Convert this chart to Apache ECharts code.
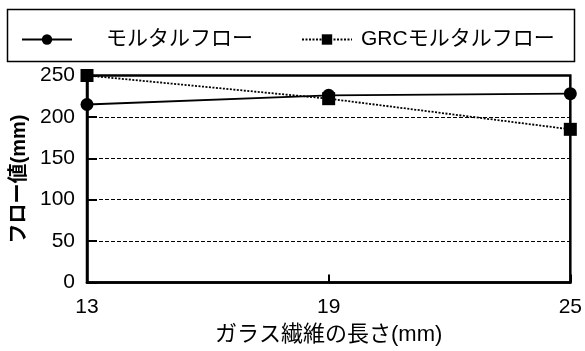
<!DOCTYPE html>
<html>
<head>
<meta charset="utf-8">
<script src="https://cdn.jsdelivr.net/npm/echarts@6/dist/echarts.min.js"></script>
<style>
html,body{margin:0;padding:0;background:#fff;}
#chart{width:585px;height:351px;}
</style>
</head>
<body>
<div id="chart"></div>
<script>
// Fibre lengths (mm) and measured flow values (mm)
var fiberLengths = ['13', '19', '25'];
var mortarFlow = [215, 226, 228];
var grcMortarFlow = [250, 222, 185];
var seriesNames = ['モルタルフロー', 'GRCモルタルフロー'];
var yTicks = { min: 0, max: 250, interval: 50 };

var FONT = "'Liberation Sans', 'Noto Sans CJK JP', sans-serif";
var chart = echarts.init(document.getElementById('chart'));

chart.setOption({
  animation: false,
  backgroundColor: '#fff',
  graphic: [{
    type: 'rect',
    shape: { x: 7.5, y: 9.5, width: 567, height: 52 },
    style: { fill: 'none', stroke: '#000', lineWidth: 1.5 },
    z: 0
  }],
  legend: {
    left: 16,
    top: 24,
    itemWidth: 50,
    itemHeight: 13,
    itemGap: 48,
    itemTextGap: 3,
    textStyle: { fontFamily: FONT, fontSize: 21, color: '#000' },
    data: [
      { name: seriesNames[0], textStyle: { padding: [0, 0, 0, 29] } },
      { name: seriesNames[1], textStyle: { padding: [0, 0, 0, 4] } }
    ]
  },
  grid: {
    left: 87, right: 14, top: 75.5, bottom: 68.5,
    show: true, borderColor: '#000', borderWidth: 2.5, backgroundColor: 'transparent'
  },
  xAxis: {
    type: 'category',
    data: fiberLengths,
    boundaryGap: false,
    name: 'ガラス繊維の長さ(mm)',
    nameLocation: 'middle',
    nameGap: 41,
    nameTextStyle: { fontFamily: FONT, fontSize: 22, color: '#000' },
    axisLine: { lineStyle: { color: '#000', width: 2.5 } },
    axisTick: { inside: true, length: 8, lineStyle: { color: '#000', width: 2 } },
    axisLabel: { margin: 14, fontFamily: FONT, fontSize: 21, color: '#000' },
    splitLine: { show: false }
  },
  yAxis: {
    type: 'value',
    min: yTicks.min, max: yTicks.max, interval: yTicks.interval,
    name: 'フロー値(mm)',
    nameLocation: 'middle',
    nameGap: 51,
    nameTextStyle: { fontFamily: FONT, fontSize: 20, fontWeight: 'bold', color: '#000' },
    axisLine: { show: true, lineStyle: { color: '#000', width: 2.5 } },
    axisTick: { show: true, inside: true, length: 10, lineStyle: { color: '#000', width: 2 } },
    axisLabel: { margin: 12, fontFamily: FONT, fontSize: 21, color: '#000' },
    splitLine: { show: true, lineStyle: { color: '#000', width: 1, type: [4, 2] } }
  },
  series: [
    {
      name: seriesNames[0],
      type: 'line',
      data: mortarFlow,
      symbol: 'circle',
      symbolSize: 13,
      clip: false,
      itemStyle: { color: '#000' },
      lineStyle: { color: '#000', width: 1.8, type: 'solid' },
      z: 3
    },
    {
      name: seriesNames[1],
      type: 'line',
      data: grcMortarFlow,
      symbol: 'rect',
      symbolSize: 13,
      clip: false,
      itemStyle: { color: '#000' },
      lineStyle: { color: '#000', width: 1.8, type: [2, 1.5] },
      z: 4
    }
  ]
});
</script>
</body>
</html>
